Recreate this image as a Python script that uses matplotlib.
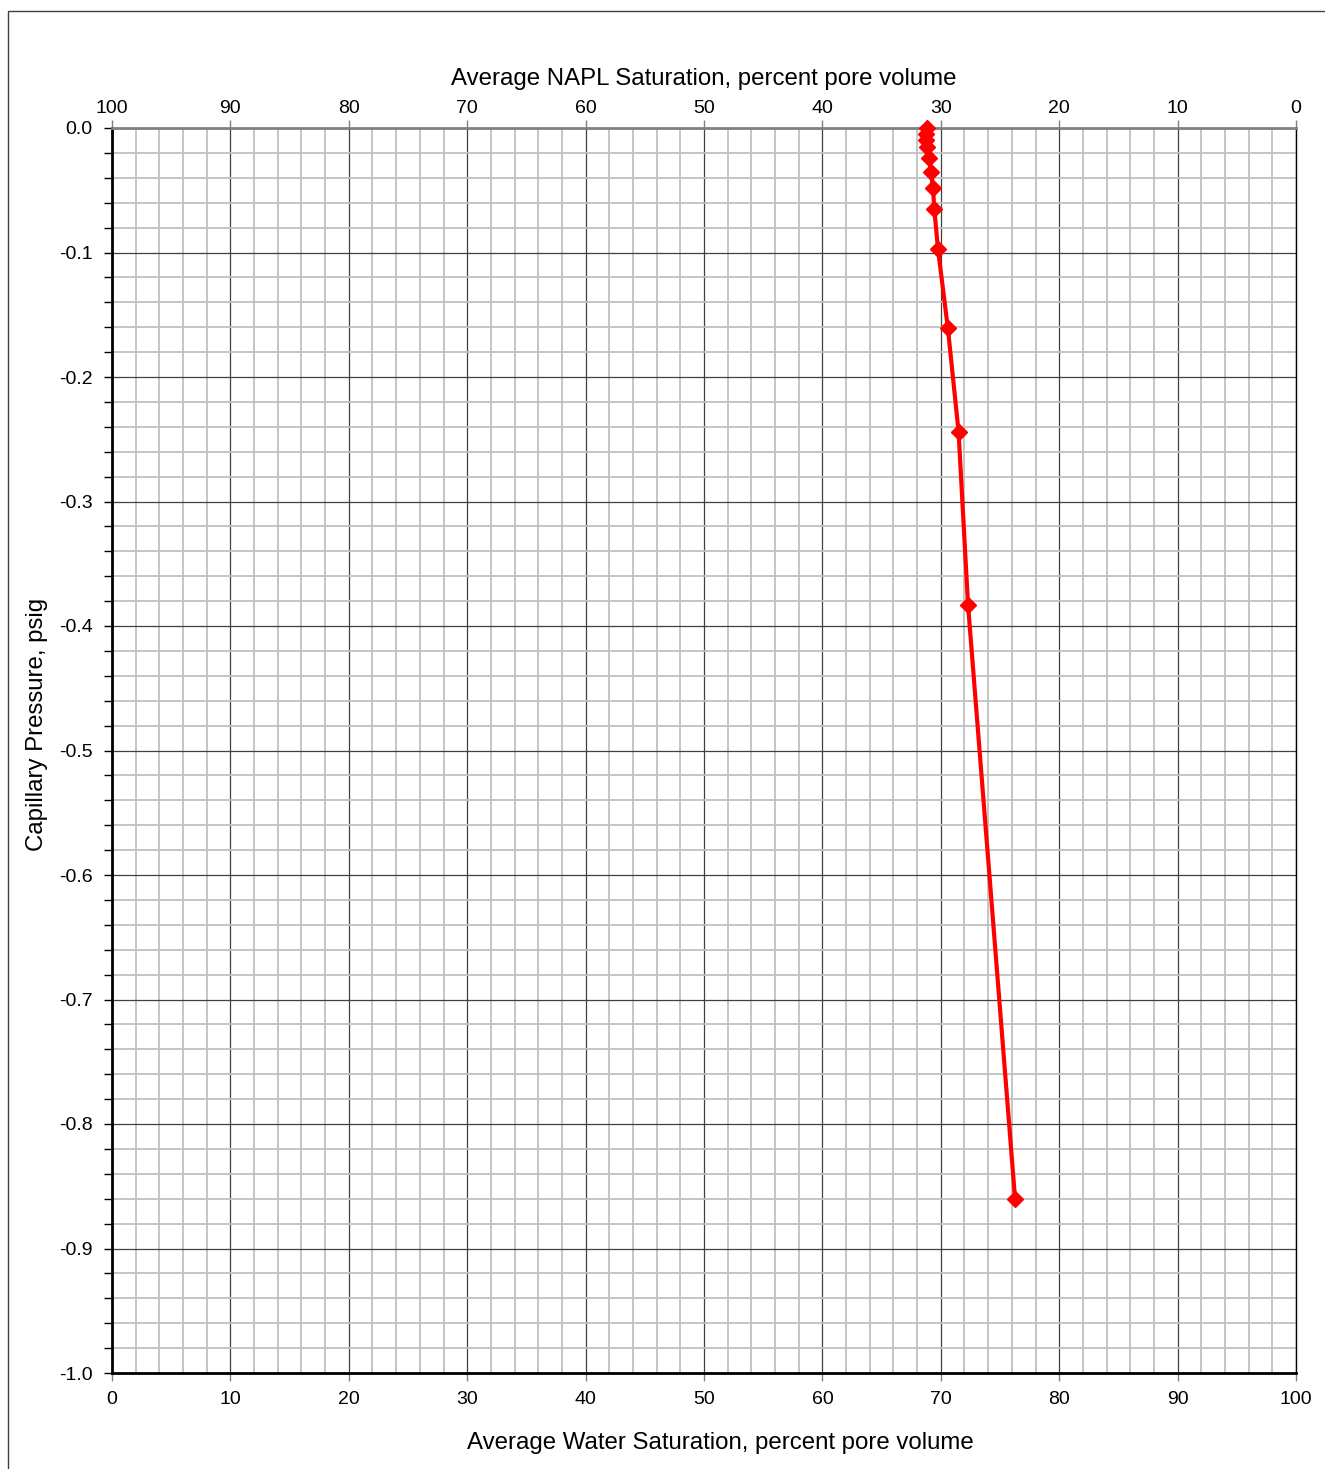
import matplotlib
matplotlib.use("Agg")
import matplotlib.pyplot as plt
from matplotlib.patches import Rectangle
from matplotlib.ticker import MultipleLocator

plt.rcParams["font.family"] = ["Liberation Sans", "DejaVu Sans"]

# average water saturation (% pore volume) vs capillary pressure (psig)
water_sat = [68.83, 68.75, 68.75, 68.8, 69.0, 69.17, 69.34, 69.45, 69.76,
             70.6, 71.5, 72.3, 76.27]
cap_pressure = [0.0, -0.005, -0.010, -0.015, -0.024, -0.035, -0.048, -0.065,
                -0.097, -0.161, -0.244, -0.383, -0.860]

x_ticks = list(range(0, 101, 10))
y_ticks = [-1.0, -0.9, -0.8, -0.7, -0.6, -0.5, -0.4, -0.3, -0.2, -0.1, 0.0]

fig = plt.figure(figsize=(13.25, 14.69), dpi=100)
ax = fig.add_axes([112 / 1325, 96 / 1469, 1184 / 1325, 1245 / 1469])

ax.set_xlim(0, 100)
ax.set_ylim(-1.0, 0.0)
ax.set_xticks(x_ticks)
ax.set_yticks(y_ticks)
ax.xaxis.set_minor_locator(MultipleLocator(2))
ax.yaxis.set_minor_locator(MultipleLocator(0.02))
ax.set_yticklabels([f"{v:.1f}" for v in y_ticks])

ax.grid(which="minor", color="#c0c0c0", lw=1.3)
ax.grid(which="major", color="#404040", lw=0.9)
ax.set_axisbelow(True)

ax.tick_params(axis="y", which="both", direction="out", length=6, width=1,
               labelsize=14, pad=8, color="black")
ax.tick_params(axis="x", which="major", direction="out", length=6, width=1,
               labelsize=14, pad=7, color="#808080")
ax.tick_params(axis="x", which="minor", length=0)

for side in ("left", "bottom"):
    ax.spines[side].set_linewidth(2)
    ax.spines[side].set_color("black")
ax.spines["right"].set_linewidth(1)
ax.spines["right"].set_color("black")
ax.spines["top"].set_linewidth(2)
ax.spines["top"].set_color("#808080")

ax.plot(water_sat, cap_pressure, color="#ff0000", lw=3, marker="D",
        markersize=8, zorder=5, clip_on=False)

ax.set_xlabel("Average Water Saturation, percent pore volume", fontsize=17.3,
              labelpad=17)
ax.xaxis.label.set_x(0.5135)
ax.set_ylabel("Capillary Pressure, psig", fontsize=17.3, labelpad=7.5)
ax.yaxis.label.set_y(0.521)

top = ax.secondary_xaxis("top", functions=(lambda v: 100 - v, lambda v: 100 - v))
top.set_xticks(x_ticks)
top.tick_params(direction="out", length=6, width=1, labelsize=14, pad=2,
                color="#808080")
top.spines["top"].set_visible(False)
top.set_xlabel("Average NAPL Saturation, percent pore volume", fontsize=17.3,
               labelpad=11)

fig.add_artist(Rectangle((8 / 1325, -0.1), 1.2, 1.1 - 11 / 1469,
                         transform=fig.transFigure, fill=False,
                         edgecolor="#404040", lw=1))

fig.savefig("out.png", dpi=100)
